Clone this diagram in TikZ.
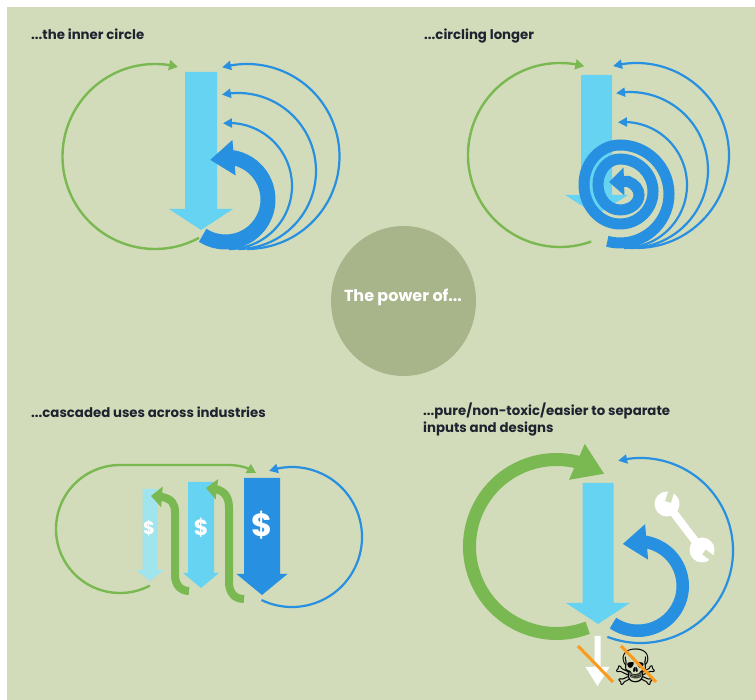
\documentclass[tikz,border=0pt]{standalone}
\usepackage{fontspec}
\setmainfont{Poppins}
\newfontfamily\symbfont{DejaVu Sans}
\usetikzlibrary{arrows.meta, bending}
\definecolor{panelbg}{HTML}{D3DCBA}
\definecolor{hubfill}{HTML}{A8B48A}
\definecolor{loopgreen}{HTML}{7AB852}
\definecolor{loopblue}{HTML}{2790E0}
\definecolor{flowsky}{HTML}{66D3F2}
\definecolor{flowpale}{HTML}{A0E4EE}
\definecolor{crossout}{HTML}{FB9A1C}
\definecolor{titleink}{HTML}{1E2330}
\newcommand{\blockarrow}[7]{\fill[#1] (#2-#3,#5) -- (#2+#3,#5) -- (#2+#3,#6) -- (#2+#4,#6) -- (#2,#7) -- (#2-#4,#6) -- (#2-#3,#6) -- cycle;}
\tikzset{
  title/.style={anchor=base west, font=\bfseries\fontsize{13.3}{15}\selectfont, text=titleink, inner sep=0pt},
  thingreen/.style={draw=loopgreen, line width=2.4pt, -{Triangle[length=9pt,width=10pt]}},
  thinblue/.style={draw=loopblue, line width=2.2pt, -{Triangle[length=9pt,width=9pt]}},
  dollar/.style={text=white, font=\bfseries\fontsize{#1}{#1}\selectfont, inner sep=0pt},
}
\begin{document}
\begin{tikzpicture}[x=1pt, y=1pt]
\useasboundingbox (0,0) rectangle (755,700);
\fill[white] (0,0) rectangle (755,700);
\fill[panelbg] (7,0) rectangle (755,693);
\node[title] (titleinner) at (31,660) {...the inner circle};
\node[title] (titlelonger) at (424,660) {...circling longer};
\node[title] (titlecascade) at (31,282) {...cascaded uses across industries};
\node[title] (titlepure) at (423,284) {...pure/non-toxic/easier to separate};
\node[title] (titleinputs) at (423,267) {inputs and designs};
\fill[hubfill] (403.5,399) ellipse [x radius=72.5, y radius=75];
\node[text=white, font=\bfseries\fontsize{16}{18}\selectfont, inner sep=0pt] (hub) at (403,403) {The power of...};

\blockarrow{flowsky}{201}{16}{32}{628}{491}{470}
\draw[thingreen] ([shift={(155,543.5)}]-61.6:92.5) arc[start angle=-61.6, end angle=-284.4, radius=92.5];
\draw[thinblue] ([shift={(247,543.5)}]-90:92.5) arc[start angle=-90, end angle=105.6, radius=92.5];
\draw[thinblue] ([shift={(238,529)}]-90:78) arc[start angle=-90, end angle=101.9, radius=78];
\draw[thinblue] ([shift={(229,514)}]-90:63) arc[start angle=-90, end angle=95.5, radius=63];
\draw[draw=loopblue, line width=15pt, -{Triangle[length=24pt,width=34pt]}] ([shift={(225.5,500.5)}]-122.5:42.5) arc[start angle=-122.5, end angle=111.2, radius=42.5];

\blockarrow{flowsky}{596.5}{15.5}{31.5}{625}{505}{485}
\draw[thingreen] ([shift={(560,545)}]-70.2:92) arc[start angle=-70.2, end angle=-285.3, radius=92];
\draw[thinblue] ([shift={(636.5,544.5)}]-90:92.5) arc[start angle=-90, end angle=104.7, radius=92.5];
\draw[thinblue] ([shift={(630,530)}]-90:78) arc[start angle=-90, end angle=100.3, radius=78];
\draw[thinblue] ([shift={(624,515)}]-90:63) arc[start angle=-90, end angle=95.5, radius=63];
\draw[draw=loopblue, line width=11pt, -{Triangle[length=15pt,width=27pt]}] ([shift={(620,506)}]-105:49) arc[start angle=-105, end angle=90, radius=49] arc[start angle=90, end angle=270, x radius=36, y radius=39.5] arc[start angle=-90, end angle=90, x radius=33, y radius=32.5] arc[start angle=90, end angle=270, x radius=22, y radius=25.5] arc[start angle=-90, end angle=65, x radius=19, y radius=15] -- (609,518);

\blockarrow{loopblue}{262}{18}{25.5}{222}{126}{105}
\blockarrow{flowsky}{201}{13}{18}{218}{127}{112}
\blockarrow{flowpale}{150}{7.5}{14}{211}{130}{119}
\node[dollar=18] (dollarpale) at (149,172) {\$};
\node[dollar=22] (dollarsky) at (201,172) {\$};
\node[dollar=32] (dollarblue) at (262,175) {\$};
\draw[draw=loopgreen, line width=8pt, -{Triangle[length=11pt,width=20pt]}] (244,101) .. controls (234,101) and (229,108) .. (229,118) -- (229,192) .. controls (229,204) and (224,212) .. (206,212);
\draw[draw=loopgreen, line width=8pt, -{Triangle[length=11pt,width=20pt]}] (189,109) .. controls (180,109) and (175,116) .. (175,125) -- (175,188) .. controls (175,198) and (170,204) .. (151,204);
\draw[thingreen] ([shift={(120,171)}]-62.2:64) arc[start angle=-62.2, end angle=-270, radius=64] -- (228,235) .. controls (240,235) and (250,232) .. (256,227);
\draw[thinblue] ([shift={(292,163)}]-115.8:70) arc[start angle=-115.8, end angle=109.2, radius=70];

\blockarrow{flowsky}{598}{15.5}{32}{217}{97}{76}
\draw[draw=loopgreen, line width=13pt, -{Triangle[length=30pt,width=37pt]}] ([shift={(556.5,153.5)}]-69:87) arc[start angle=-69, end angle=-303.4, radius=87];
\draw[draw=loopblue, line width=12.5pt, -{Triangle[length=24pt,width=34pt]}] ([shift={(638,114)}]-124:44.75) arc[start angle=-124, end angle=110, radius=44.75];
\draw[thinblue] ([shift={(640.5,149.5)}]-111:92.5) arc[start angle=-111, end angle=104, radius=92.5];
\fill[white] (667,196) circle (12.5);
\fill[white] (702,150) circle (12.5);
\draw[white, line width=8pt] (667,196) -- (702,150);
\draw[panelbg, line width=6pt] (668,198) -- (672,211);
\draw[panelbg, line width=6pt] (704,148) -- (716,139);
\blockarrow{white}{597.5}{3}{12}{64}{33}{14}
\node[text=black, font=\symbfont\fontsize{50}{50}\selectfont, inner sep=0pt] (skull) at (635.5,33) {☠};
\draw[crossout, line width=3pt] (578,54) -- (613,18);
\draw[crossout, line width=3pt] (621,54) -- (656,18);
\end{tikzpicture}
\end{document}
